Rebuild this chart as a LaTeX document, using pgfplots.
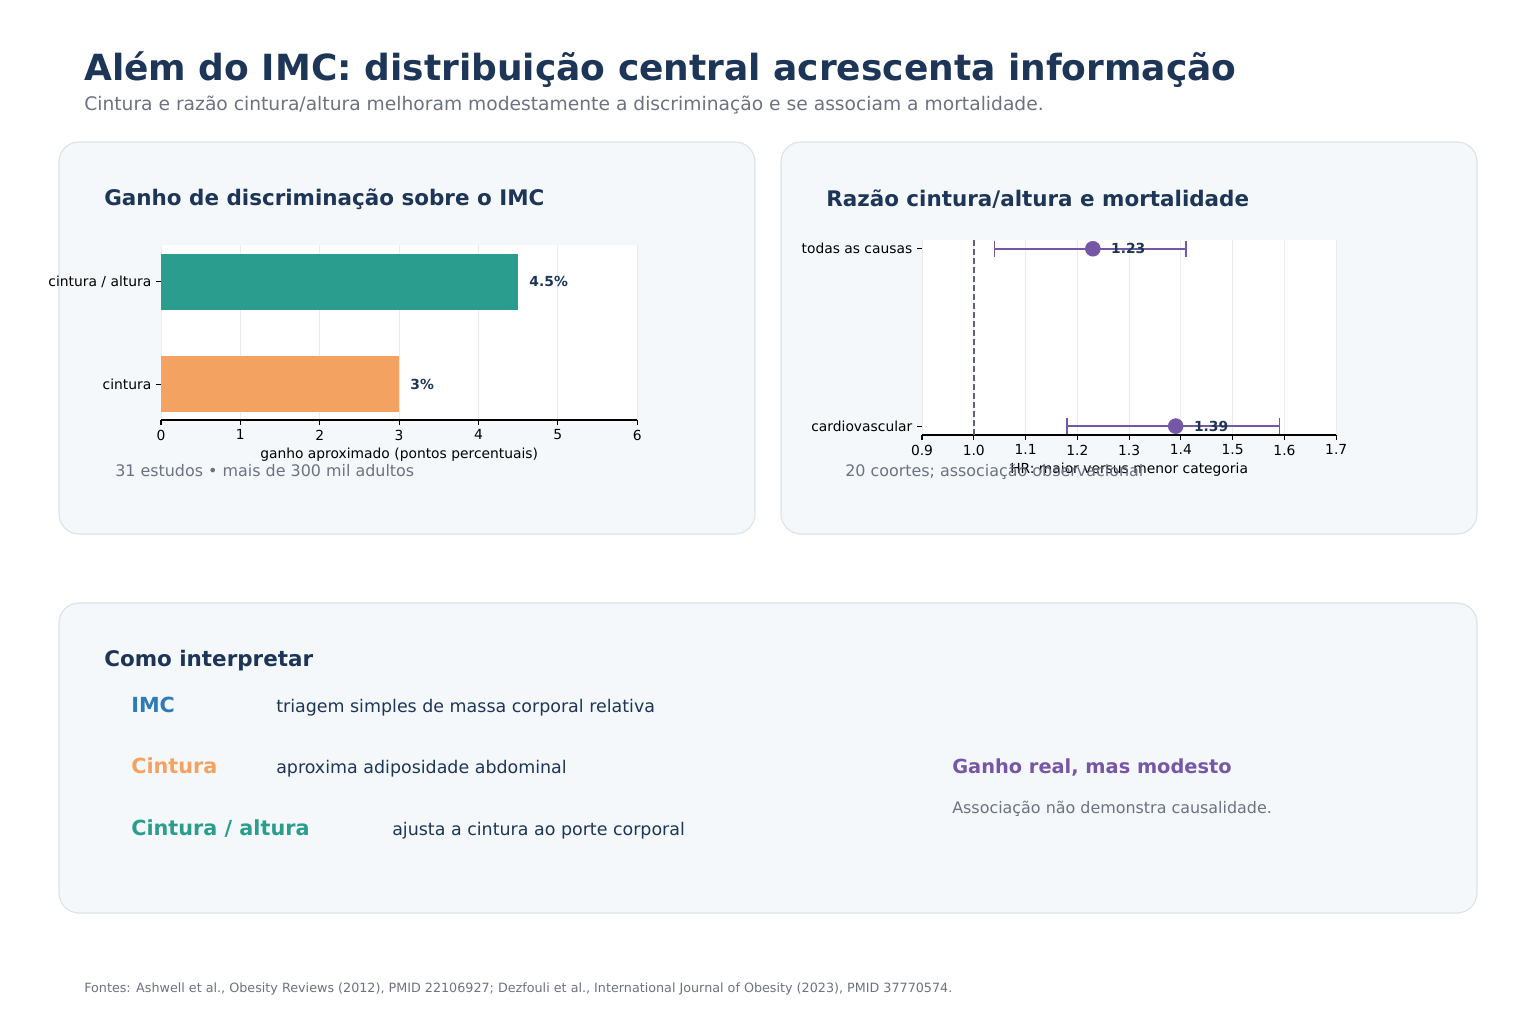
\documentclass[border=0pt]{standalone}
\usepackage{fontspec}
\setmainfont{DejaVu Sans}
\usepackage{pgfplots}
\pgfplotsset{compat=1.18}

\definecolor{navy}{HTML}{1D3557}
\definecolor{subgray}{HTML}{6C7280}
\definecolor{panelbg}{HTML}{F4F8FB}
\definecolor{panelline}{HTML}{DCE2E7}
\definecolor{teal}{HTML}{2A9D8F}
\definecolor{orng}{HTML}{F4A261}
\definecolor{purp}{HTML}{7657A6}
\definecolor{imcblue}{HTML}{2F7BB5}
\definecolor{gridc}{HTML}{EBEBEB}
\definecolor{refline}{HTML}{5C6475}

\pgfplotsset{
  every axis/.append style={font=\fontsize{10}{12}\selectfont},
  /pgf/number format/assume math mode=true,
}

\begin{document}
\begin{tikzpicture}[x=0.01in, y=-0.01in]
\path (0,0) rectangle (1536,1024);

% title block
\node[anchor=base west, inner sep=0, text=navy, font=\fontsize{26}{30}\selectfont\bfseries] at (84,81) {Além do IMC: distribuição central acrescenta informação};
\node[anchor=base west, inner sep=0, text=subgray, font=\fontsize{13.5}{16}\selectfont] at (84,111) {Cintura e razão cintura/altura melhoram modestamente a discriminação e se associam a mortalidade.};

% panels
\draw[panelline, fill=panelbg, rounded corners=0.2in, line width=0.8pt] (59,142) rectangle (755,534);
\draw[panelline, fill=panelbg, rounded corners=0.2in, line width=0.8pt] (781,142) rectangle (1477,534);
\draw[panelline, fill=panelbg, rounded corners=0.2in, line width=0.8pt] (59,603) rectangle (1477,913);

\node[anchor=base west, inner sep=0, text=navy, font=\fontsize{15.5}{18}\selectfont\bfseries] at (104,205) {Ganho de discriminação sobre o IMC};
\node[anchor=base west, inner sep=0, text=navy, font=\fontsize{15.5}{18}\selectfont\bfseries] at (826,206) {Razão cintura/altura e mortalidade};

\coordinate (A1) at (161,420);
\coordinate (A2) at (922,435);

% left panel: bars
\begin{axis}[
  at={(A1)}, anchor=south west,
  scale only axis, width=4.76in, height=1.75in,
  xbar, bar width=0.56in,
  xmin=0, xmax=6, ymin=-0.35, ymax=1.36,
  xtick={0,1,2,3,4,5,6},
  ytick={0,1}, yticklabels={cintura, cintura / altura},
  axis x line*=bottom, axis y line*=left,
  y axis line style={draw=none},
  x axis line style={line width=0.8pt},
  tick align=outside, major tick length=3.5pt,
  tick style={black, line width=0.8pt},
  xmajorgrids, grid style={gridc, line width=0.6pt},
  axis background/.style={fill=white},
  xlabel={ganho aproximado (pontos percentuais)},
  xlabel style={inner sep=0pt, yshift=-2pt},
  point meta=x,
  nodes near coords={\pgfmathprintnumber{\pgfplotspointmeta}\%},
  every node near coord/.append style={anchor=west, inner sep=0pt, xshift=0.11in, text=navy, font=\fontsize{10}{12}\selectfont\bfseries},
]
\addplot[fill=teal, draw=none, bar shift=0pt] coordinates {(4.5,1)};
\addplot[fill=orng, draw=none, bar shift=0pt] coordinates {(3,0)};
\end{axis}

% right panel: hazard ratios
\begin{axis}[
  at={(A2)}, anchor=south west,
  scale only axis, width=4.14in, height=1.95in,
  xmin=0.9, xmax=1.7, ymin=-0.05, ymax=1.05,
  xtick={0.9,1.0,1.1,1.2,1.3,1.4,1.5,1.6,1.7},
  xticklabel style={/pgf/number format/.cd, fixed, fixed zerofill, precision=1},
  ytick={0,1}, yticklabels={cardiovascular, todas as causas},
  axis x line*=bottom, axis y line*=left,
  y axis line style={draw=none},
  x axis line style={line width=0.8pt},
  tick align=outside, major tick length=3.5pt,
  tick style={black, line width=0.8pt},
  xmajorgrids, grid style={gridc, line width=0.6pt},
  axis background/.style={fill=white},
  xlabel={HR: maior versus menor categoria},
  xlabel style={inner sep=0pt, yshift=-2pt},
  clip=false,
]
\addplot[refline, line width=1.1pt, dash pattern=on 4.5pt off 2pt] coordinates {(1.0,-0.05) (1.0,1.05)};
% confidence intervals (low, high) with end caps
\addplot[purp, line width=1.6pt, mark=|, mark size=5.8pt, mark options={line width=1.1pt, solid}] coordinates {(1.04,1) (1.41,1)};
\addplot[purp, line width=1.6pt, mark=|, mark size=5.8pt, mark options={line width=1.1pt, solid}] coordinates {(1.18,0) (1.59,0)};
% point estimates
\addplot[only marks, mark=*, mark size=5.4pt, mark options={fill=purp, draw=purp},
  point meta=x,
  nodes near coords={\pgfmathprintnumber[fixed, fixed zerofill, precision=2]{\pgfplotspointmeta}},
  every node near coord/.append style={anchor=west, inner sep=0pt, xshift=0.18in, text=navy, font=\fontsize{10}{12}\selectfont\bfseries}]
  coordinates {(1.23,1) (1.39,0)};
\end{axis}

% panel notes
\node[anchor=base west, inner sep=0, text=subgray, font=\fontsize{11.5}{14}\selectfont] at (115,476) {31 estudos • mais de 300 mil adultos};
\node[anchor=base west, inner sep=0, text=subgray, font=\fontsize{11.5}{14}\selectfont] at (845,476) {20 coortes; associação observacional};

% bottom panel
\node[anchor=base west, inner sep=0, text=navy, font=\fontsize{15.5}{18}\selectfont\bfseries] at (104,666) {Como interpretar};
\node[anchor=base west, inner sep=0, text=imcblue, font=\fontsize{15}{18}\selectfont\bfseries] at (131,712) {IMC};
\node[anchor=base west, inner sep=0, text=navy, font=\fontsize{12.6}{15}\selectfont] at (276,712) {triagem simples de massa corporal relativa};
\node[anchor=base west, inner sep=0, text=orng, font=\fontsize{15}{18}\selectfont\bfseries] at (131,773) {Cintura};
\node[anchor=base west, inner sep=0, text=navy, font=\fontsize{12.6}{15}\selectfont] at (276,773) {aproxima adiposidade abdominal};
\node[anchor=base west, inner sep=0, text=teal, font=\fontsize{15}{18}\selectfont\bfseries] at (131,835) {Cintura / altura};
\node[anchor=base west, inner sep=0, text=navy, font=\fontsize{12.6}{15}\selectfont] at (392,835) {ajusta a cintura ao porte corporal};
\node[anchor=base west, inner sep=0, text=purp, font=\fontsize{14}{17}\selectfont\bfseries] at (952,773) {Ganho real, mas modesto};
\node[anchor=base west, inner sep=0, text=subgray, font=\fontsize{11.5}{14}\selectfont] at (952,813) {Associação não demonstra causalidade.};

% footer
\node[anchor=base west, inner sep=0, text=subgray, font=\fontsize{9.2}{11}\selectfont] at (84,992) {Fontes: Ashwell et al., Obesity Reviews (2012), PMID 22106927; Dezfouli et al., International Journal of Obesity (2023), PMID 37770574.};
\end{tikzpicture}
\end{document}
